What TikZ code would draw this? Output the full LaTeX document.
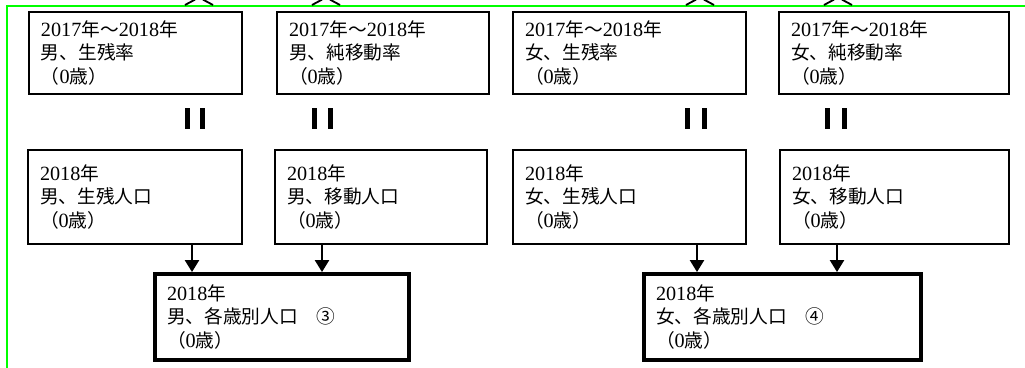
\documentclass[tikz,border=0pt]{standalone}
\usepackage{fontspec}
\setmainfont{Liberation Serif}[Scale=1.08]
\newfontfamily\jpfont{Noto Sans CJK JP}
\newcommand{\jp}[1]{{\jpfont #1}}
\usetikzlibrary{arrows.meta}

\definecolor{frameGreen}{RGB}{0,255,0}

\tikzset{
    box/.style={draw, line width=0.9pt, align=left, inner xsep=0.3cm, inner ysep=0pt,
        font=\fontsize{13.3}{17}\selectfont},
    toprow/.style={box, minimum height=2.05cm},
    midrow/.style={box, minimum height=2.35cm},
    result/.style={box, line width=2.8pt, minimum height=2.15cm},
    arr/.style={-{Triangle[width=10pt,length=8.5pt]}, line width=1.5pt},
    eqbar/.style={line width=3pt},
    cut/.style={line width=1.3pt},
}

\begin{document}
\begin{tikzpicture}
        \useasboundingbox (0,0) rectangle (25.625,-9.175);

        % frame
        \draw[frameGreen, line width=1.4pt] (0.175,-9.4) -- (0.175,-0.15) -- (25.8,-0.15);

        % cut-off marks at the top
        \foreach \cx in {4.975, 8.15, 17.5, 20.95} {
            \draw[cut] (\cx-0.35,-0.125) -- (\cx-0.1,0.01);
            \draw[cut] (\cx+0.1,0.01) -- (\cx+0.35,-0.125);
        }

        % rates
        \node[toprow, text width=4.725cm] (mRate) at (3.3875,-1.325) {
            2017\jp{年～}2018\jp{年}\\
            \jp{男、生残率}\\
            \jp{（}0\jp{歳）}
        };
        \node[toprow, text width=4.7cm] (mMigRate) at (9.575,-1.325) {
            2017\jp{年～}2018\jp{年}\\
            \jp{男、純移動率}\\
            \jp{（}0\jp{歳）}
        };
        \node[toprow, text width=5.225cm] (fRate) at (15.7375,-1.325) {
            2017\jp{年～}2018\jp{年}\\
            \jp{女、生残率}\\
            \jp{（}0\jp{歳）}
        };
        \node[toprow, text width=5.15cm] (fMigRate) at (22.35,-1.325) {
            2017\jp{年～}2018\jp{年}\\
            \jp{女、純移動率}\\
            \jp{（}0\jp{歳）}
        };

        % populations
        \node[midrow, text width=4.75cm] (mSurv) at (3.375,-4.925) {
            2018\jp{年}\\
            \jp{男、生残人口}\\
            \jp{（}0\jp{歳）}
        };
        \node[midrow, text width=4.7cm] (mMig) at (9.525,-4.925) {
            2018\jp{年}\\
            \jp{男、移動人口}\\
            \jp{（}0\jp{歳）}
        };
        \node[midrow, text width=5.225cm] (fSurv) at (15.7375,-4.925) {
            2018\jp{年}\\
            \jp{女、生残人口}\\
            \jp{（}0\jp{歳）}
        };
        \node[midrow, text width=5.125cm] (fMig) at (22.3625,-4.925) {
            2018\jp{年}\\
            \jp{女、移動人口}\\
            \jp{（}0\jp{歳）}
        };

        % results
        \node[result, text width=5.75cm] (mAge) at (7.05,-7.925) {
            2018\jp{年}\\
            \jp{男、各歳別人口　③}\\
            \jp{（}0\jp{歳）}
        };
        \node[result, text width=6.325cm] (fAge) at (19.5625,-7.925) {
            2018\jp{年}\\
            \jp{女、各歳別人口　④}\\
            \jp{（}0\jp{歳）}
        };

        % equal marks
        \foreach \bx in {4.6875, 5.0625, 7.8625, 8.2625, 17.1875, 17.6125, 20.6875, 21.1125}
            \draw[eqbar] (\bx,-2.7) -- (\bx,-3.225);

        \coordinate (c1) at (4.8,0);
        \coordinate (c2) at (8.05,0);
        \coordinate (c3) at (17.425,0);
        \coordinate (c4) at (20.925,0);

        \draw[arr] (mSurv.south -| c1) -- (mAge.north -| c1);
        \draw[arr] (mMig.south -| c2) -- (mAge.north -| c2);
        \draw[arr] (fSurv.south -| c3) -- (fAge.north -| c3);
        \draw[arr] (fMig.south -| c4) -- (fAge.north -| c4);
    \end{tikzpicture}
\end{document}
